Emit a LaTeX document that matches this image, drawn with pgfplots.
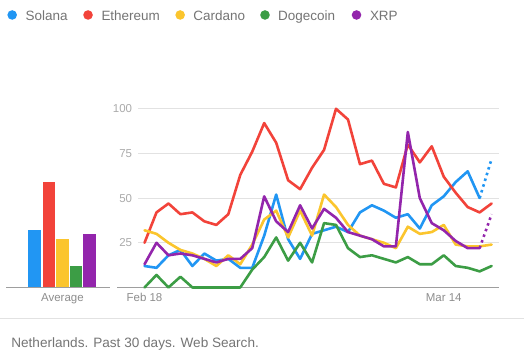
\documentclass[border=0pt]{standalone}
\usepackage{fontspec}
\setmainfont{Liberation Sans}
\usepackage{pgfplots}
\usepackage{pgfplotstable}
\pgfplotsset{compat=1.18}
\definecolor{cSol}{HTML}{2196F3}
\definecolor{cEth}{HTML}{F2433A}
\definecolor{cCar}{HTML}{FBC52D}
\definecolor{cDog}{HTML}{3C9D45}
\definecolor{cXrp}{HTML}{9325AC}
\definecolor{gridc}{HTML}{E2E2E2}
\definecolor{basec}{HTML}{9E9E9E}
\definecolor{txt}{HTML}{757575}
\definecolor{ticktxt}{HTML}{ABABAB}
\definecolor{xticktxt}{HTML}{8E8E8E}

\pgfplotstableread{
i sol eth car dog xrp
0 12 25 32 0 13
1 11 42 30 7 25
2 18 47 25 0 18
3 21 41 21 6 19
4 12 42 19 0 18
5 19 37 16 0 16
6 15 35 12 0 14
7 16 41 18 0 16
8 11 63 13 0 16
9 11 76 24 10 22
10 29 92 38 17 51
11 52 81 43 28 37
12 27 60 28 15 31
13 16 55 43 25 46
14 30 67 29 14 33
15 32 77 52 36 44
16 34 100 45 35 39
17 31 94 35 22 31
18 42 69 29 17 29
19 46 71 27 18 27
20 43 58 25 16 23
21 39 56 22 14 23
22 41 80 34 17 87
23 33 70 30 13 50
24 46 79 31 13 36
25 51 62 35 18 32
26 59 53 24 12 26
27 65 45 23 11 22
28 50 42 23 9 22
29 72 47 24 12 41
}\trends

\begin{document}
\begin{tikzpicture}
\begin{scope}[x=1bp,y=1bp]
\fill[white] (0,0) rectangle (524,357);
% legend
\fill[cSol] (11.7,342) circle (4.8);
\node[anchor=base west,inner sep=0pt,text=txt,font=\fontsize{13.5bp}{16bp}\selectfont] at (25,336.5) {Solana};
\fill[cEth] (87.7,342) circle (4.8);
\node[anchor=base west,inner sep=0pt,text=txt,font=\fontsize{13.5bp}{16bp}\selectfont] at (101,336.5) {Ethereum};
\fill[cCar] (180,342) circle (4.8);
\node[anchor=base west,inner sep=0pt,text=txt,font=\fontsize{13.5bp}{16bp}\selectfont] at (193,336.5) {Cardano};
\fill[cDog] (265,342) circle (4.8);
\node[anchor=base west,inner sep=0pt,text=txt,font=\fontsize{13.5bp}{16bp}\selectfont] at (278,336.5) {Dogecoin};
\fill[cXrp] (356.7,342) circle (4.8);
\node[anchor=base west,inner sep=0pt,text=txt,font=\fontsize{13.5bp}{16bp}\selectfont] at (370,336.5) {XRP};
% separator and footer
\draw[gridc,line width=1bp] (0,37.5) -- (524,37.5);
\node[anchor=base west,inner sep=0pt,text=txt,font=\fontsize{13.6bp}{16bp}\selectfont] at (10.7,8.7) {Netherlands. Past 30 days. Web Search.};
\end{scope}

% average bars
\begin{axis}[at={(6bp,69.3bp)}, anchor=south west, scale only axis,
  width=104bp, height=179bp, xmin=6, xmax=110, ymin=0, ymax=100,
  clip=false, axis line style={draw=none}, major tick length=0pt,
  ytick=\empty, xtick={62}, xticklabels={Average},
  xticklabel style={font=\fontsize{11.5bp}{13bp}\selectfont, text=xticktxt, inner sep=0pt, anchor=north, yshift=-6bp}]
\addplot[ybar, bar width=12.7bp, bar shift=0pt, fill=cSol, draw=none] coordinates {(34.4,32)};
\addplot[ybar, bar width=12.7bp, bar shift=0pt, fill=cEth, draw=none] coordinates {(48.5,59)};
\addplot[ybar, bar width=12.7bp, bar shift=0pt, fill=cCar, draw=none] coordinates {(62.0,27)};
\addplot[ybar, bar width=12.7bp, bar shift=0pt, fill=cDog, draw=none] coordinates {(75.7,12)};
\addplot[ybar, bar width=12.7bp, bar shift=0pt, fill=cXrp, draw=none] coordinates {(89.5,30)};
\draw[basec,line width=0.9bp] (axis cs:6,0) -- (axis cs:110,0);
\end{axis}

% main trend chart
\begin{axis}[at={(138bp,69bp)}, anchor=south west, scale only axis,
  width=361bp, height=179bp, xmin=-0.525, xmax=29.58, ymin=0, ymax=100,
  clip=false, axis line style={draw=none}, major tick length=0pt,
  ytick={25,50,75,100}, ymajorgrids, grid style={gridc, line width=0.9bp},
  xtick={0,25}, xticklabels={Feb 18, Mar 14},
  /pgf/number format/assume math mode=true,
  yticklabel style={font=\fontsize{11.5bp}{13bp}\selectfont, text=ticktxt, inner sep=0pt, anchor=east, xshift=-6bp},
  xticklabel style={font=\fontsize{11.5bp}{13bp}\selectfont, text=xticktxt, inner sep=0pt, anchor=north, yshift=-6bp},
  every axis plot/.append style={line width=2.6bp, line join=round, line cap=round, no markers}]
\draw[basec,line width=0.9bp] (axis cs:-2.28,0) -- (axis cs:29.58,0);
\addplot[cSol, restrict x to domain=0:28] table[x=i,y=sol] {\trends};
\addplot[cSol, restrict x to domain=28:29, dash pattern=on 2.5bp off 3.5bp, line cap=butt] table[x=i,y=sol] {\trends};
\addplot[cEth] table[x=i,y=eth] {\trends};
\addplot[cCar] table[x=i,y=car] {\trends};
\addplot[cDog] table[x=i,y=dog] {\trends};
\addplot[cXrp, restrict x to domain=0:28] table[x=i,y=xrp] {\trends};
\addplot[cXrp, restrict x to domain=28:29, dash pattern=on 2.5bp off 3.5bp, line cap=butt] table[x=i,y=xrp] {\trends};
\end{axis}
\end{tikzpicture}
\end{document}
